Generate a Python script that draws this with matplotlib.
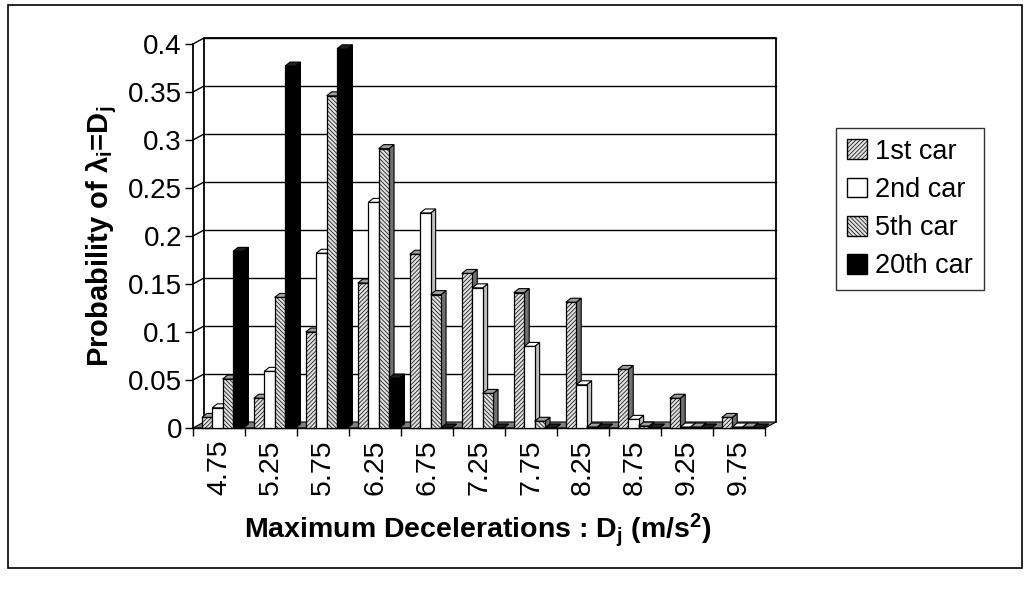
import numpy as np
import matplotlib.pyplot as plt
from matplotlib.patches import Polygon, Rectangle

plt.rcParams['font.family'] = ['Liberation Sans', 'DejaVu Sans']
plt.rcParams['mathtext.fontset'] = 'custom'
plt.rcParams['mathtext.rm'] = 'Liberation Sans:bold'
plt.rcParams['mathtext.it'] = 'Liberation Sans:bold'
plt.rcParams['mathtext.bf'] = 'Liberation Sans:bold'
plt.rcParams['hatch.linewidth'] = 0.5
plt.rcParams['hatch.color'] = '#606060'

decel = ["4.75", "5.25", "5.75", "6.25", "6.75", "7.25", "7.75", "8.25", "8.75", "9.25", "9.75"]
car_1st = [0.011, 0.031, 0.100, 0.151, 0.181, 0.161, 0.141, 0.131, 0.061, 0.031, 0.011]
car_2nd = [0.021, 0.059, 0.182, 0.235, 0.224, 0.146, 0.085, 0.045, 0.009, 0.001, 0.001]
car_5th = [0.051, 0.136, 0.346, 0.291, 0.139, 0.036, 0.007, 0.001, 0.002, 0.001, 0.001]
car_20th = [0.184, 0.377, 0.395, 0.052, 0.0, 0.0, 0.0, 0.0, 0.0, 0.0, 0.0]
yticks = [0, 0.05, 0.1, 0.15, 0.2, 0.25, 0.3, 0.35, 0.4]

series = [car_1st, car_2nd, car_5th, car_20th]
names = ["1st car", "2nd car", "5th car", "20th car"]
# face, hatch, top colour, side colour
styles = [
    ("#e0e0e0", "////////", "#a0a0a0", "#707070"),
    ("white", None, "white", "#bdbdbd"),
    ("#e0e0e0", "\\\\\\\\\\\\\\\\", "#a0a0a0", "#707070"),
    ("black", None, "#202020", "black"),
]

W, H = 1029, 601
fig = plt.figure(figsize=(W / 100, H / 100), dpi=100)
x0, x1, y0, y1 = 193, 765, 428, 44
ax = fig.add_axes([x0 / W, 1 - y0 / H, (x1 - x0) / W, (y0 - y1) / H])
n = len(decel)
ax.set_xlim(0, n)
ax.set_ylim(0, 0.4)

# pixel -> data helpers for the fake 3D depth
px_x = (x1 - x0) / n
px_y = (y0 - y1) / 0.4
bx, by = 11 / px_x, 6 / px_y      # back wall offset
dx, dy = 5 / px_x, 4 / px_y       # bar depth

# floor and back wall
ax.add_patch(Polygon([(0, 0), (n, 0), (n + bx, by), (bx, by)], closed=True,
                     facecolor="#808080", edgecolor="black", lw=0.8, zorder=1, clip_on=False))
for v in yticks[1:]:
    ax.plot([bx, n + bx], [v + by, v + by], color="black", lw=1.0, zorder=0.5, clip_on=False)
    ax.plot([0, bx], [v, v + by], color="black", lw=1.0, zorder=0.5, clip_on=False)
ax.plot([bx, bx, n + bx, n + bx], [by, 0.4 + by, 0.4 + by, by], color="black", lw=1.3,
        zorder=0.6, clip_on=False)

width = 0.2
start = 0.17
for i in range(n):
    for k, vals in enumerate(series):
        face, hatch, topc, sidec = styles[k]
        h = vals[i]
        xl = i + start + k * width
        xr = xl + width
        z = 2 + i * 10 + k
        ax.add_patch(Polygon([(xr, 0), (xr, h), (xr + dx, h + dy), (xr + dx, dy)], closed=True,
                             facecolor=sidec, edgecolor="black", lw=0.8, zorder=z, clip_on=False))
        ax.add_patch(Polygon([(xl, h), (xr, h), (xr + dx, h + dy), (xl + dx, h + dy)], closed=True,
                             facecolor=topc, edgecolor="black", lw=0.8, zorder=z, clip_on=False))
        ax.bar(xl, h, width=width, align="edge", color=face, hatch=hatch,
               edgecolor="black", lw=0.9, zorder=z + 0.5, clip_on=False)

for s in ["top", "right"]:
    ax.spines[s].set_visible(False)
ax.spines["left"].set_linewidth(1.3)
ax.spines["bottom"].set_linewidth(1.0)
ax.set_yticks(yticks)
ax.set_yticklabels(["0", "0.05", "0.1", "0.15", "0.2", "0.25", "0.3", "0.35", "0.4"])
ax.set_xticks(np.arange(n + 1))
ax.set_xticklabels([])
ax.set_xticks(np.arange(n) + 0.5, minor=True)
ax.set_xticklabels(decel, minor=True, rotation=90)
ax.tick_params(axis="x", which="minor", length=0, pad=8, labelsize=20.5)
ax.tick_params(axis="x", which="major", length=6, direction="out", width=1)
ax.tick_params(axis="y", length=6, width=1, labelsize=20, pad=2)

fig.text(102 / W, 1 - 236 / H, r"Probability of $\lambda_{i}$=D$_{j}$", rotation=90,
         fontsize=21, fontweight="bold", ha="center", va="center")
fig.text(478 / W, 1 - 530 / H, r"Maximum Decelerations : D$_{j}$ (m/s$^{2}$)",
         fontsize=20.5, fontweight="bold", ha="center", va="center")

handles = []
for k in range(4):
    face, hatch = styles[k][0], styles[k][1]
    handles.append(Rectangle((0, 0), 1, 1, facecolor=face, hatch=hatch, edgecolor="black", lw=1))
fig.legend(handles, names, loc="upper left", bbox_to_anchor=(836 / W, 1 - 128 / H),
           frameon=True, fancybox=False, edgecolor="black", fontsize=19.5,
           handlelength=0.75, handleheight=0.75, handletextpad=0.3, labelspacing=0.45,
           borderpad=0.4, borderaxespad=0)

fig.patches.append(Rectangle((8 / W, 1 - 568 / H), (1022 - 8) / W, (568 - 5) / H,
                             transform=fig.transFigure, fill=False, edgecolor="black", lw=1.2))

fig.savefig("out.png", dpi=100)
